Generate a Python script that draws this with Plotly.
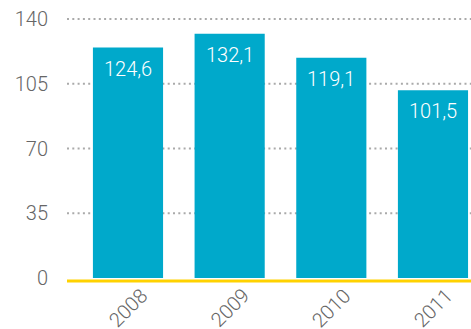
import plotly.graph_objects as go

years = ["2008", "2009", "2010", "2011"]
values = [124.6, 132.1, 119.1, 101.5]
y_ticks = [0, 35, 70, 105, 140]

bar_color = "#00A9CB"
grid_color = "#AAAAAA"
text_gray = "#666666"
font_family = "Roboto, Liberation Sans, Arial, sans-serif"

xs = list(range(len(years)))
labels = [f"{v:.1f}".replace(".", ",") for v in values]

fig = go.Figure()
fig.add_trace(go.Bar(
    x=xs, y=values, width=0.69,
    marker=dict(color=bar_color, line=dict(width=0)),
    hoverinfo="skip",
))

annotations = []
for x, v, lab in zip(xs, values, labels):
    annotations.append(dict(
        x=x, y=v, xref="x", yref="y", text=lab, showarrow=False,
        yanchor="top", yshift=-7,
        font=dict(family=font_family, size=20, color="white", weight=300),
    ))
for x, yr in zip(xs, years):
    annotations.append(dict(
        x=x, y=0, xref="x", yref="paper", text=yr, showarrow=False,
        textangle=-45, yanchor="middle", xanchor="center", yshift=-27,
        font=dict(family=font_family, size=20, color=text_gray, weight=300),
    ))

shapes = []
for t in y_ticks[1:]:
    shapes.append(dict(type="line", xref="paper", yref="y", x0=0, x1=1, y0=t, y1=t,
                       layer="below", line=dict(color=grid_color, width=2, dash="2px,3.3px")))
shapes.append(dict(type="line", xref="paper", yref="paper", x0=0, x1=1, y0=0, y1=0,
                   line=dict(color="#FFD200", width=3)))

fig.update_layout(
    width=471, height=329,
    margin=dict(l=67, r=0, t=10, b=48),
    paper_bgcolor="white", plot_bgcolor="white",
    showlegend=False,
    annotations=annotations,
    shapes=shapes,
    xaxis=dict(range=[-0.6, 3.374], showgrid=False, zeroline=False,
               showticklabels=False, showline=False, fixedrange=True),
    yaxis=dict(range=[-1.62, 144.9], tickvals=y_ticks,
               showgrid=False, zeroline=False, showline=False,
               ticks="outside", ticklen=14, tickcolor="rgba(0,0,0,0)",
               tickfont=dict(family=font_family, size=20, color=text_gray, weight=300),
               fixedrange=True),
)

fig.write_html("out.html")
